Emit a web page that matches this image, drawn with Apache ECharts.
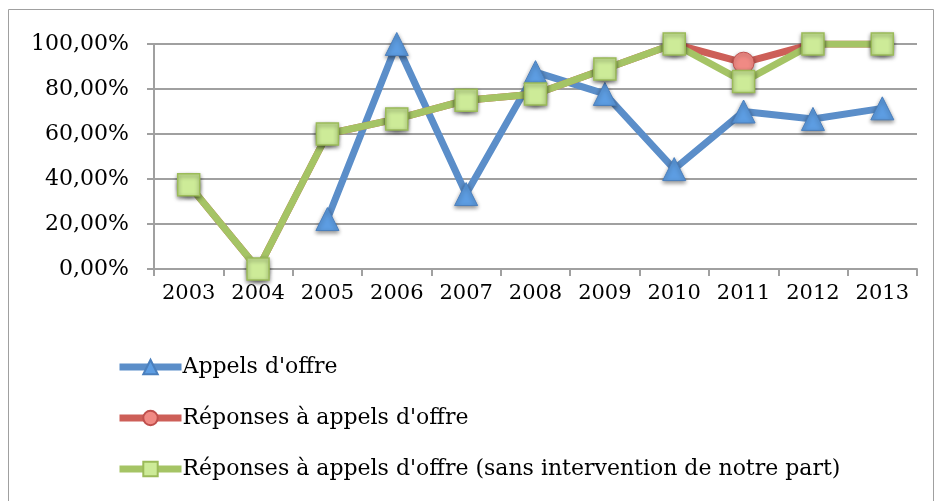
<!DOCTYPE html>
<html>
<head>
<meta charset="utf-8">
<script src="https://cdn.jsdelivr.net/npm/echarts@6/dist/echarts.min.js"></script>
<style>
  html, body { margin: 0; padding: 0; background: #fff; }
  #chart { width: 936px; height: 501px; }
</style>
</head>
<body>
<div id="chart"></div>
<script>
const years = ['2003', '2004', '2005', '2006', '2007', '2008', '2009', '2010', '2011', '2012', '2013']
// pourcentages
const appels = [null, null, 22.2, 100, 33.3, 87.5, 77.8, 44.4, 70, 66.7, 71.4]
const reponses = [37.5, 0, 60, 66.7, 75, 77.8, 88.9, 100, 91.7, 100, 100]
const reponsesSans = [37.5, 0, 60, 66.7, 75, 77.8, 88.9, 100, 83.3, 100, 100]
const seriesNames = [
  "Appels d'offre",
  "Réponses à appels d'offre",
  "Réponses à appels d'offre (sans intervention de notre part)"
]

const font = 'DejaVu Serif'
const shadow = { shadowBlur: 4, shadowColor: 'rgba(0,0,0,0.45)', shadowOffsetY: 2 }

const myChart = echarts.init(document.getElementById('chart'))
myChart.setOption({
  animation: false,
  textStyle: { fontFamily: font },
  graphic: [
    {
      type: 'rect',
      shape: { x: 8.5, y: 9.5, width: 925, height: 500 },
      style: { fill: 'none', stroke: '#a0a0a0', lineWidth: 1 }
    }
  ],
  grid: { left: 154, right: 19, top: 44, bottom: 232 },
  legend: {
    orient: 'vertical',
    left: 111,
    top: 351,
    itemWidth: 62,
    itemHeight: 18,
    itemGap: 29,
    lineStyle: { width: 7 },
    textStyle: { fontFamily: font, fontSize: 22, color: '#000', padding: [0, 0, 0, -4] },
    data: seriesNames
  },
  xAxis: {
    type: 'category',
    data: years,
    boundaryGap: true,
    axisLine: { lineStyle: { color: '#a0a0a0', width: 2 } },
    axisTick: { show: true, interval: 0, length: 7, lineStyle: { color: '#a0a0a0', width: 2 } },
    axisLabel: { interval: 0, color: '#000', fontSize: 21, fontFamily: font, margin: 14 }
  },
  yAxis: {
    type: 'value',
    min: 0,
    max: 100,
    interval: 20,
    axisLine: { show: true, lineStyle: { color: '#a0a0a0', width: 2 } },
    axisTick: { show: true, length: 7, inside: false, lineStyle: { color: '#a0a0a0', width: 2 } },
    splitLine: { lineStyle: { color: '#a0a0a0', width: 2 } },
    axisLabel: {
      color: '#000',
      fontSize: 22,
      fontFamily: font,
      margin: 25,
      formatter: v => v.toFixed(2).replace('.', ',') + '%'
    }
  },
  series: [
    {
      name: seriesNames[0],
      type: 'line',
      data: appels,
      symbol: 'triangle',
      symbolSize: 23,
      lineStyle: { color: '#5b8ec9', width: 7 },
      itemStyle: { color: '#5d9de2', borderColor: '#4a7fbd', borderWidth: 1, ...shadow }
    },
    {
      name: seriesNames[1],
      type: 'line',
      data: reponses,
      symbol: 'circle',
      symbolSize: 21,
      lineStyle: { color: '#cd5f58', width: 7 },
      itemStyle: { color: '#f08a84', borderColor: '#c0504d', borderWidth: 1, ...shadow }
    },
    {
      name: seriesNames[2],
      type: 'line',
      data: reponsesSans,
      symbol: 'rect',
      symbolSize: 22,
      lineStyle: { color: '#a5c465', width: 7 },
      itemStyle: { color: '#cdeb98', borderColor: '#9bbb59', borderWidth: 1.5, ...shadow }
    }
  ]
})
</script>
</body>
</html>
